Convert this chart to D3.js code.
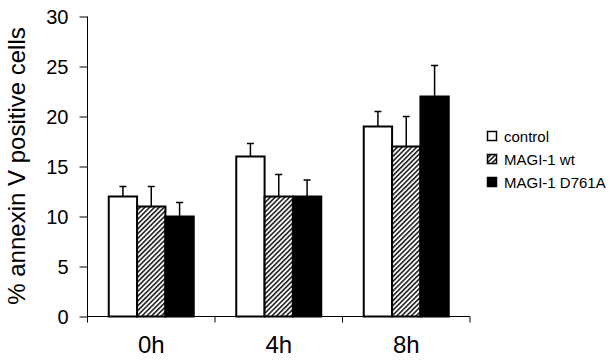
<!DOCTYPE html>
<html><head><meta charset="utf-8">
<script src="https://cdn.jsdelivr.net/npm/d3@7"></script>
<style>body{margin:0;background:#fff}svg{display:block;font-family:"Liberation Sans",Arial,sans-serif}</style>
</head><body><svg id="c" width="614" height="361"></svg>
<script>
const categories = ["0h", "4h", "8h"];
const seriesNames = ["control", "MAGI-1 wt", "MAGI-1 D761A"];
const controlValues = [12, 16, 19];
const wtValues = [11, 12, 17];
const d761aValues = [10, 12, 22];
const controlErr = [1.0, 1.3, 1.5];
const wtErr = [2.0, 2.2, 3.0];
const d761aErr = [1.4, 1.65, 3.1];
const yTicks = [0, 5, 10, 15, 20, 25, 30];

const values = [controlValues, wtValues, d761aValues];
const errs = [controlErr, wtErr, d761aErr];
const fills = ["#fff", "url(#hatch)", "#000"];

const svg = d3.select("#c");
const defs = svg.append("defs");
const pat = defs.append("pattern").attr("id","hatch").attr("patternUnits","userSpaceOnUse")
  .attr("width",3.4).attr("height",10).attr("patternTransform","rotate(45)");
pat.append("rect").attr("width",3.4).attr("height",10).attr("fill","#fff");
pat.append("line").attr("x1",0.8).attr("x2",0.8).attr("y1",0).attr("y2",10).attr("stroke","#000").attr("stroke-width",1.4);

const x = d3.scaleBand().domain(categories).range([87.5, 470]).paddingInner(0).paddingOuter(0);
const xs = d3.scaleBand().domain(d3.range(3)).range([0, x.bandwidth()]).paddingInner(0).paddingOuter(0.75);
const y = d3.scaleLinear().domain([0, 30]).range([316.5, 16.5]);

// y axis
const yAx = svg.append("g").attr("transform","translate(87.5,0)")
  .call(d3.axisLeft(y).tickValues(yTicks).tickSize(8).tickPadding(11).tickSizeOuter(0));
yAx.select(".domain").attr("d", `M0,${y(30)}V${y(0)+6}`);
yAx.selectAll("text").attr("font-size",20).attr("font-family","Liberation Sans, Arial, sans-serif").attr("fill","#000").attr("dy","0.36em");
yAx.selectAll("line,path").attr("stroke","#000");

// x axis
const xAx = svg.append("g").attr("transform",`translate(0,${y(0)})`);
xAx.append("line").attr("x1",87.5).attr("x2",470).attr("stroke","#000");
xAx.selectAll("line.t").data(categories).join("line").attr("class","t")
  .attr("x1",d=>x(d)+x.bandwidth()).attr("x2",d=>x(d)+x.bandwidth()).attr("y1",0).attr("y2",6).attr("stroke","#000");
xAx.selectAll("text").data(categories).join("text")
  .attr("x",d=>x(d)+x.bandwidth()/2).attr("y",36).attr("text-anchor","middle")
  .attr("font-size",24).attr("fill","#000").text(d=>d);

// bars
seriesNames.forEach((s,si)=>{
  const g = svg.append("g");
  categories.forEach((c,ci)=>{
    const bx = x(c)+xs(si);
    const v = values[si][ci], e = errs[si][ci];
    const cx = bx + xs.bandwidth()/2;
    g.append("line").attr("x1",cx).attr("x2",cx).attr("y1",y(v)).attr("y2",y(v+e)).attr("stroke","#000").attr("stroke-width",1.5);
    g.append("line").attr("x1",cx-3.5).attr("x2",cx+3.5).attr("y1",y(v+e)).attr("y2",y(v+e)).attr("stroke","#000").attr("stroke-width",1.5);
    g.append("rect").attr("x",bx).attr("y",y(v)).attr("width",xs.bandwidth()).attr("height",y(0)-y(v))
      .attr("fill",fills[si]).attr("stroke","#000").attr("stroke-width",2);
  });
});

// y label
svg.append("text").attr("transform","translate(25,166) rotate(-90)").attr("text-anchor","middle")
  .attr("font-size",24).attr("fill","#000").text("% annexin V positive cells");

// legend
const leg = svg.append("g");
seriesNames.forEach((s,i)=>{
  const ly = 136 + i*23;
  leg.append("rect").attr("x",487.5).attr("y",ly-4.5).attr("width",9).attr("height",9)
    .attr("fill",fills[i]).attr("stroke","#000").attr("stroke-width",1.5);
  leg.append("text").attr("x",504).attr("y",ly+5.5).attr("font-size",15).attr("fill","#000").text(s);
});
</script></body></html>
